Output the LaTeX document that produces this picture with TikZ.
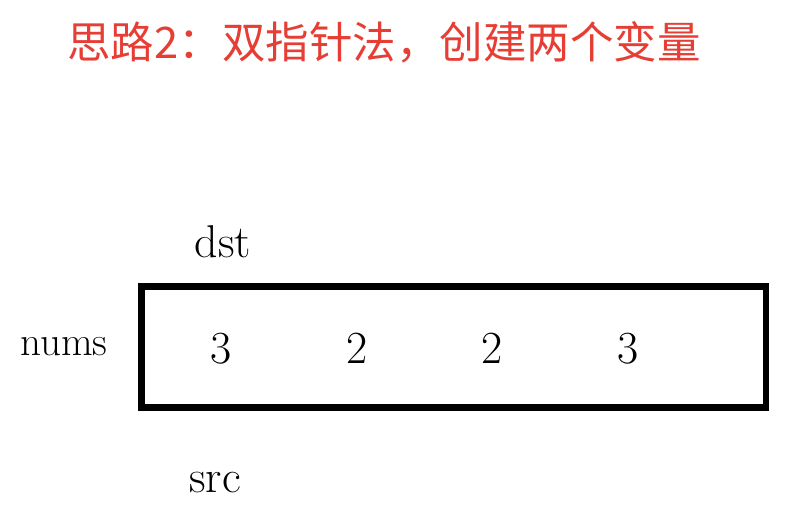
\documentclass[tikz,border=0pt]{standalone}
\usepackage{fontspec}
\newfontfamily\cjk{Noto Sans CJK SC}
\definecolor{titlered}{RGB}{230,62,52}

\begin{document}
\begin{tikzpicture}
        [x=1pt,y=-1pt,every node/.style={inner sep=0pt}]
        \useasboundingbox (0,0) rectangle (790,513);
        \node[text=titlered,font=\cjk\fontsize{43.5}{48}\selectfont] (title) at (384,42) {思路2：双指针法，创建两个变量};

        \node[draw,line width=6.5pt,minimum width=624.5pt,minimum height=121pt] (arr) at (453.75,347) {};
        \node[anchor=base,font=\fontsize{41}{48}\selectfont] (nums) at (64,355) {nums};
        \node[anchor=base,font=\fontsize{46}{48}\selectfont] (dst) at (223,258) {dst};
        \node[anchor=base,font=\fontsize{46}{48}\selectfont] (src) at (215,492) {src};

        \node[anchor=base,font=\fontsize{46}{50}\selectfont] (a) at (221,363) {3};
        \node[anchor=base,font=\fontsize{46}{50}\selectfont] (b) at (357,363) {2};
        \node[anchor=base,font=\fontsize{46}{50}\selectfont] (c) at (492,363) {2};
        \node[anchor=base,font=\fontsize{46}{50}\selectfont] (d) at (628,363) {3};
    \end{tikzpicture}
\end{document}
